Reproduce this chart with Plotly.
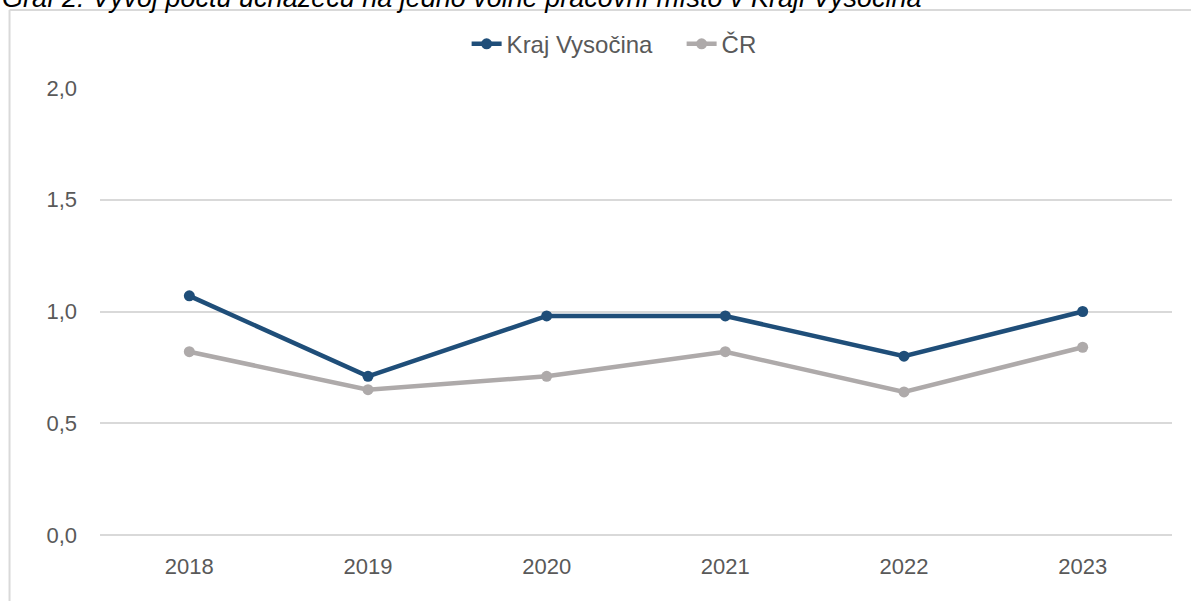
import plotly.graph_objects as go

years = ["2018", "2019", "2020", "2021", "2022", "2023"]
kraj_vysocina = [1.07, 0.71, 0.98, 0.98, 0.80, 1.00]
cr = [0.82, 0.65, 0.71, 0.82, 0.64, 0.84]
y_ticks = [0.0, 0.5, 1.0, 1.5, 2.0]
y_labels = ["0,0", "0,5", "1,0", "1,5", "2,0"]

title = "Graf 2: Vývoj počtu uchazečů na jedno volné pracovní místo v Kraji Vysočina"

font = "Liberation Sans, Arial, sans-serif"
grid = "#D9D9D9"

fig = go.Figure()

fig.add_trace(
    go.Scatter(
        x=years,
        y=kraj_vysocina,
        mode="lines+markers",
        name="Kraj Vysočina",
        line=dict(color="#1F4E79", width=4.5),
        marker=dict(size=11, color="#1F4E79"),
    )
)
fig.add_trace(
    go.Scatter(
        x=years,
        y=cr,
        mode="lines+markers",
        name="ČR",
        line=dict(color="#AEAAAA", width=4.5),
        marker=dict(size=11, color="#AEAAAA"),
    )
)

# frame around the chart: only top and left edges are inside the picture
fig.add_shape(type="line", xref="paper", yref="paper",
              x0=-0.0844, x1=1.1, y0=1.1745, y1=1.1745,
              line=dict(color=grid, width=2), layer="below")
fig.add_shape(type="line", xref="paper", yref="paper",
              x0=-0.0844, x1=-0.0844, y0=-0.3, y1=1.1745,
              line=dict(color=grid, width=2), layer="below")

# chart caption, clipped at the top like in the source
fig.add_annotation(
    text="<i>" + title + "</i>",
    xref="paper",
    yref="paper",
    x=-0.0933,
    y=1.1625,
    xanchor="left",
    yanchor="bottom",
    showarrow=False,
    font=dict(family=font, size=27, color="#000000"),
)

fig.update_layout(
    width=1191,
    height=601,
    margin=dict(l=100, r=19, t=88, b=66),
    plot_bgcolor="white",
    paper_bgcolor="white",
    font=dict(family=font, size=22, color="#595959"),
    showlegend=True,
    legend=dict(
        orientation="h",
        x=0.342,
        y=1.098,
        xanchor="left",
        yanchor="middle",
        font=dict(size=24, color="#595959"),
        bgcolor="rgba(0,0,0,0)",
        itemwidth=30,
        entrywidth=170,
    ),
    xaxis=dict(
        type="category",
        range=[-0.5, 5.5],
        showgrid=False,
        showline=False,
        zeroline=False,
        ticks="",
        ticklabelstandoff=16,
    ),
    yaxis=dict(
        range=[0, 2.0],
        tickvals=y_ticks,
        ticktext=y_labels,
        showgrid=True,
        gridcolor=grid,
        gridwidth=2,
        zeroline=True,
        zerolinecolor=grid,
        zerolinewidth=2,
        showline=False,
        ticks="",
        ticklabelstandoff=22,
    ),
)

# drop the default 8px page margin so the figure sits at the window corner
fig.write_html(
    "out.html",
    config={"displayModeBar": False},
    post_script="document.body.style.margin='0';",
)
